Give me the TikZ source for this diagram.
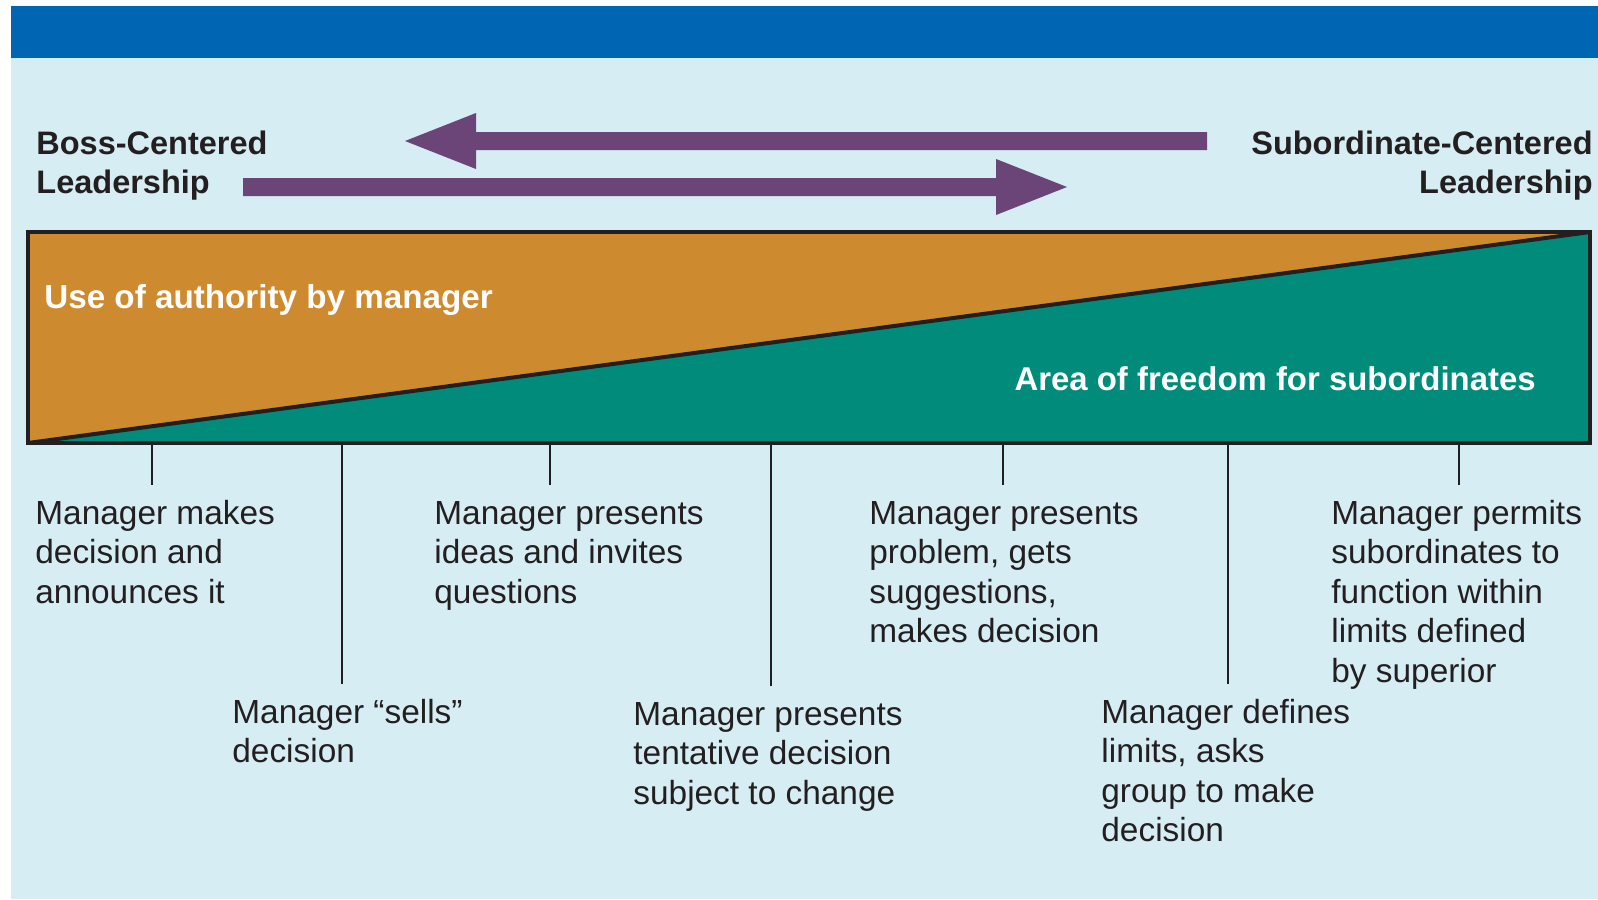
\documentclass[tikz,border=0pt]{standalone}
\usepackage{fontspec}
\setmainfont{Liberation Sans}
\definecolor{topblue}{HTML}{0066B3}
\definecolor{bgblue}{HTML}{D5EDF3}
\definecolor{authority}{HTML}{CE8A2E}
\definecolor{freedom}{HTML}{008B7A}
\definecolor{arrowpurple}{HTML}{6B4577}
\definecolor{ink}{HTML}{231F20}
\begin{document}
\begin{tikzpicture}[x=0.5pt,y=-0.5pt,
  heading/.style={font=\bfseries\fontsize{16.25}{19.5}\selectfont, text=ink, inner sep=0pt},
  arealabel/.style={font=\bfseries\fontsize{16.6}{19.5}\selectfont, text=white, inner sep=0pt},
  desc/.style={font=\fontsize{16.7}{19.75}\selectfont, text=ink, inner sep=0pt, align=left, anchor=base west},
  bigarrow/.style={fill=arrowpurple, draw=none},
  tickline/.style={draw=ink, line width=1.2pt},
  frame/.style={draw=ink, line width=2pt, line join=miter}
]
\useasboundingbox (0,0) rectangle (1598,899);
\fill[white] (0,0) rectangle (1598,899);
\fill[bgblue] (11,58) rectangle (1598,899);
\fill[topblue] (11,6) rectangle (1598,58);

% headings (base anchor = baseline of the last line)
\node[heading, anchor=base west, align=left] (boss) at (36,193) {Boss-Centered\\Leadership};
\node[heading, anchor=base east, align=right] (sub) at (1593,193) {Subordinate-Centered\\Leadership};

% arrows
\fill[bigarrow] (1207,132) -- (476,132) -- (476,113) -- (405,141) -- (476,169) -- (476,150) -- (1207,150) -- cycle;
\fill[bigarrow] (243,178) -- (996,178) -- (996,159) -- (1067,187) -- (996,215) -- (996,196) -- (243,196) -- cycle;

% continuum bar
\coordinate (bl) at (28,443);
\coordinate (tl) at (28,232);
\coordinate (tr) at (1590,232);
\coordinate (br) at (1590,443);
\fill[authority] (bl) -- (tl) -- (tr) -- cycle;
\fill[freedom] (bl) -- (tr) -- (br) -- cycle;
\draw[draw=ink, line width=2pt] (bl) -- (tr);
\draw[frame] (bl) rectangle (tr);

\node[arealabel, anchor=base west] (use) at (44,308) {Use of authority by manager};
\node[arealabel, anchor=base east, font=\bfseries\fontsize{16.45}{19.5}\selectfont] (area) at (1536,390) {Area of freedom for subordinates};

% ticks
\foreach \n/\x/\y in {1/152/485, 2/342/684, 3/550/485, 4/771/686, 5/1003/485, 6/1228/684, 7/1459/485}{
  \coordinate (t\n) at (\x,443);
  \coordinate (e\n) at (\x,\y);
  \draw[tickline] (t\n) -- (e\n);
}

% descriptions (base anchor = baseline of the last line)
\node[desc] (d1) at (35,603) {Manager makes\\decision and\\announces it};
\node[desc] (d2) at (232,762.5) {Manager “sells”\\decision};
\node[desc] (d3) at (434,603) {Manager presents\\ideas and invites\\questions};
\node[desc] (d4) at (633,804) {Manager presents\\tentative decision\\subject to change};
\node[desc] (d5) at (869,642.5) {Manager presents\\problem, gets\\suggestions,\\makes decision};
\node[desc] (d6) at (1101,841.5) {Manager defines\\limits, asks\\group to make\\decision};
\node[desc] (d7) at (1331,682) {Manager permits\\subordinates to\\function within\\limits defined\\by superior};
\end{tikzpicture}
\end{document}
